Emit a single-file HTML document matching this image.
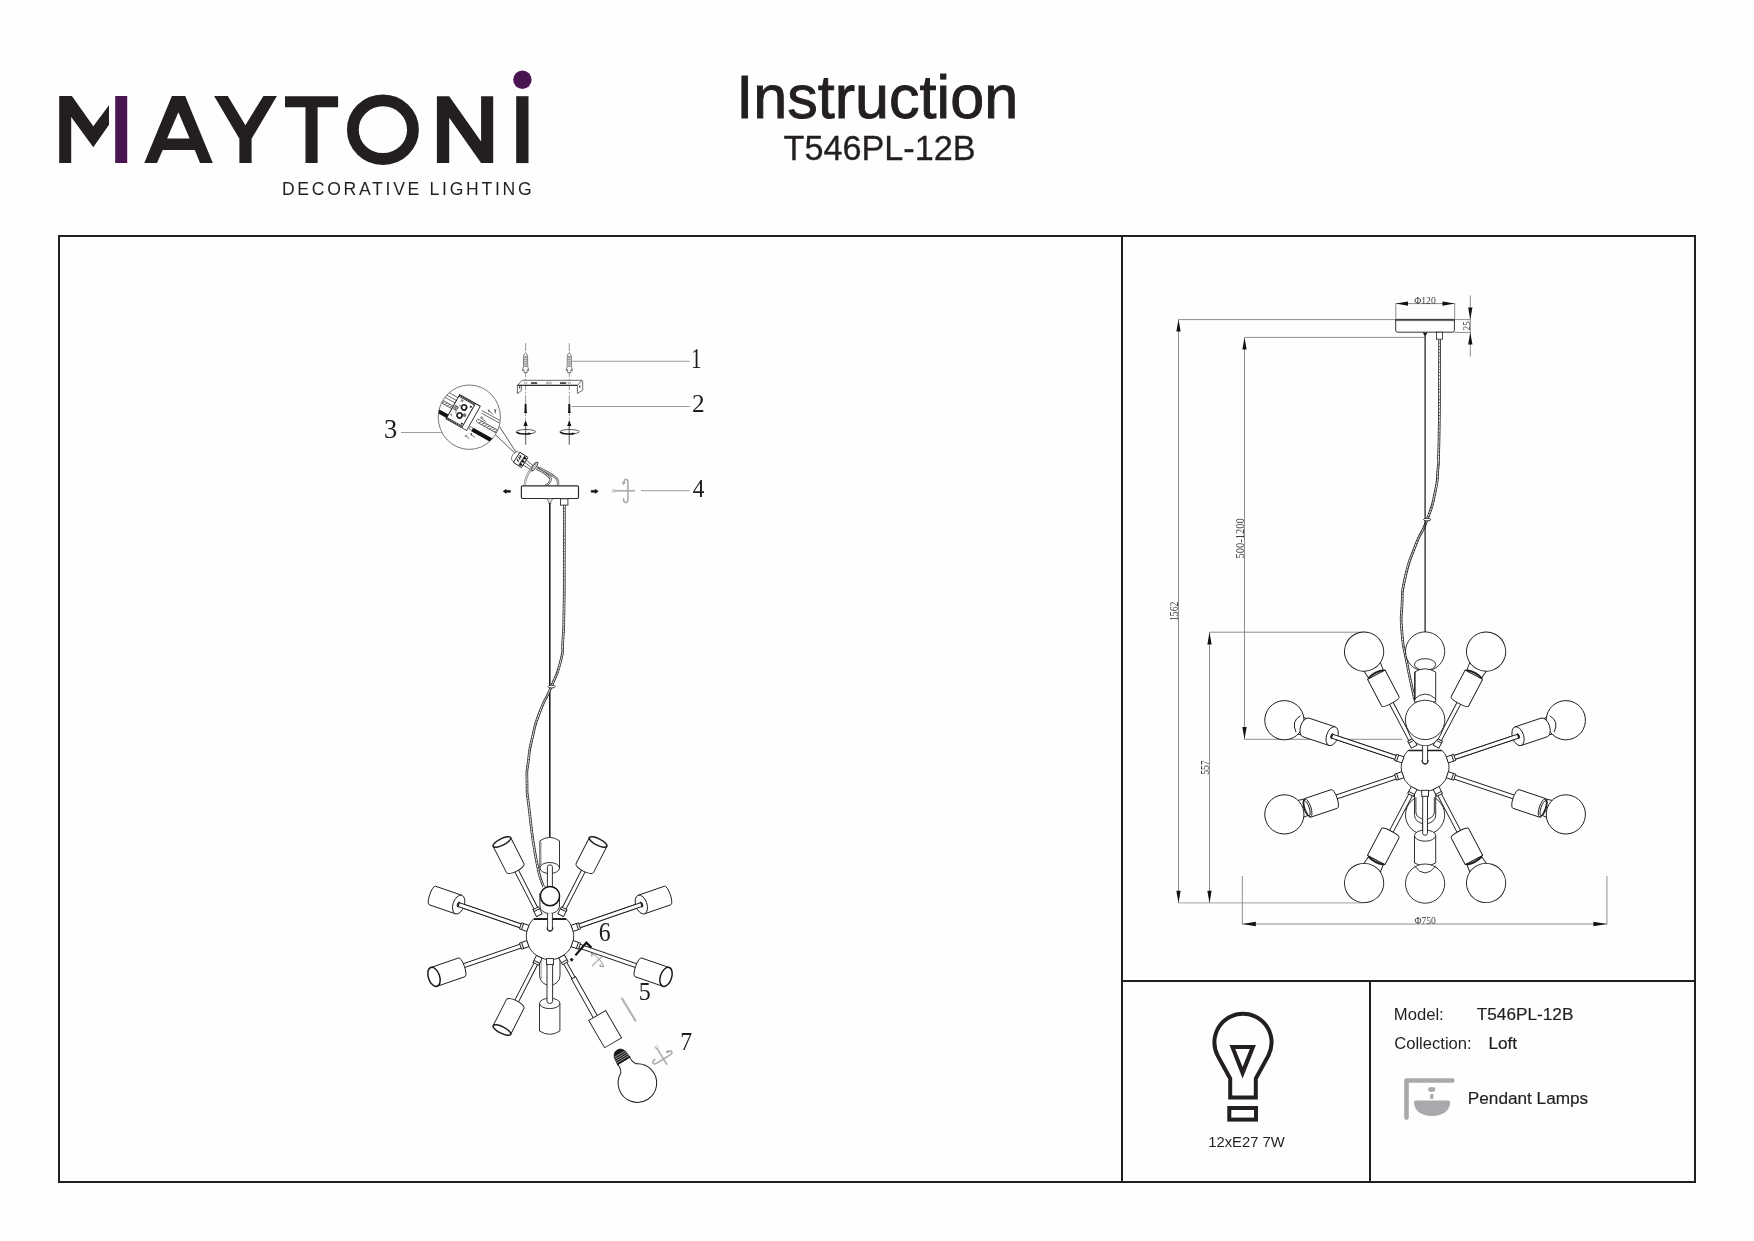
<!DOCTYPE html>
<html><head><meta charset="utf-8"><title>Instruction T546PL-12B</title>
<style>
html,body{margin:0;padding:0;background:#fefefe;}
body{width:1754px;height:1241px;overflow:hidden;font-family:"Liberation Sans",sans-serif;}
svg{position:absolute;left:0;top:0;display:block;will-change:transform;transform:translateZ(0)}
</style></head><body>
<svg width="1754" height="1241" viewBox="0 0 1754 1241">
<polygon fill="#231f20" points="59.2,96 71.9,96 93.3,126.3 109,105.2 109,124.8 93.3,147.2 71.2,117.1 71.2,163 59.2,163"/>
<rect fill="#4a1452" x="115.2" y="96" width="12" height="67"/>
<path fill="#231f20" fill-rule="evenodd" d="M171.9,96 L185.2,96 L212.8,163 L200,163 L194.8,150 L162.7,150 L157,163 L144.3,163 Z M178.4,112.2 L167.1,138.6 L189.6,138.6 Z"/>
<polygon fill="#231f20" points="214.1,96 227.8,96 245.4,125.2 263.4,96 276.9,96 251.6,138.7 251.6,163 239.4,163 239.4,138.7"/>
<polygon fill="#231f20" points="285,96.2 338.1,96.2 338.1,107.3 317.6,107.3 317.6,163.1 305.5,163.1 305.5,107.3 285,107.3"/>
<ellipse cx="382.9" cy="129.7" rx="30.05" ry="29.3" fill="none" stroke="#231f20" stroke-width="11.8"/>
<polygon fill="#231f20" points="436.9,96.2 449.2,96.2 481.1,141.6 481.1,96.2 493.2,96.2 493.2,163.1 481.1,163.1 449.2,117.7 449.2,163.1 436.9,163.1"/>
<rect fill="#231f20" x="516.2" y="96.2" width="12.3" height="66.9"/>
<circle fill="#4a1452" cx="522.4" cy="79.7" r="9.2"/>
<rect x="59" y="236" width="1636" height="946" fill="none" stroke="#231f20" stroke-width="2"/>
<line x1="1122" y1="236" x2="1122" y2="1182" stroke="#231f20" stroke-width="2"/>
<line x1="1122" y1="981" x2="1695" y2="981" stroke="#231f20" stroke-width="2"/>
<line x1="1370" y1="981" x2="1370" y2="1182" stroke="#231f20" stroke-width="2"/>
<text x="281.9" y="194.6" font-family="Liberation Sans, sans-serif" font-size="17.6" fill="#231f20" textLength="249.7" lengthAdjust="spacing">DECORATIVE LIGHTING</text>
<text x="736.2" y="117.5" font-family="Liberation Sans, sans-serif" font-size="60.4" fill="#231f20" stroke="#231f20" stroke-width="0.9" textLength="282" lengthAdjust="spacingAndGlyphs">Instruction</text>
<text x="783.6" y="160.3" font-family="Liberation Sans, sans-serif" font-size="34.3" fill="#231f20" stroke="#231f20" stroke-width="0.3" textLength="192" lengthAdjust="spacingAndGlyphs">T546PL-12B</text>
<text x="1393.8" y="1019.6" font-family="Liberation Sans, sans-serif" font-size="16.65" fill="#231f20">Model:</text>
<text x="1476.8" y="1019.6" font-family="Liberation Sans, sans-serif" font-size="17.1" fill="#231f20" stroke="#231f20" stroke-width="0.2" textLength="96.6" lengthAdjust="spacingAndGlyphs">T546PL-12B</text>
<text x="1394.2" y="1048.9" font-family="Liberation Sans, sans-serif" font-size="16.6" fill="#231f20">Collection:</text>
<text x="1488.4" y="1048.9" font-family="Liberation Sans, sans-serif" font-size="17.2" fill="#231f20" stroke="#231f20" stroke-width="0.2">Loft</text>
<text x="1467.8" y="1104" font-family="Liberation Sans, sans-serif" font-size="17.2" fill="#231f20" stroke="#231f20" stroke-width="0.2">Pendant Lamps</text>
<text x="1208.2" y="1146.5" font-family="Liberation Sans, sans-serif" font-size="14.8" fill="#231f20">12xE27 7W</text>
<path d="M1230.2,1097.4 L1230.2,1078.6 L1217.9,1056.1 A28.6,28.6 0 1 1 1268.1,1056.1 L1255.8,1078.6 L1255.8,1097.4 Z" fill="none" stroke="#231f20" stroke-width="4" stroke-linejoin="miter"/>
<path fill="#231f20" fill-rule="evenodd" d="M1229.5,1045.1 L1255.9,1045.1 L1242.6,1078.5 Z M1235.3,1049 L1249.8,1049 L1242.6,1066.9 Z"/>
<rect x="1229.3" y="1108" width="26.7" height="11.6" fill="none" stroke="#231f20" stroke-width="4"/>
<path d="M1406.5,1117.6 L1406.5,1080.5 L1452.4,1080.5" fill="none" stroke="#a7a9ac" stroke-width="4.6" stroke-linecap="round" stroke-linejoin="round"/>
<ellipse cx="1431.7" cy="1089.5" rx="3.6" ry="2.4" fill="#a7a9ac"/>
<rect x="1430.2" y="1094" width="3.2" height="4.9" fill="#a7a9ac"/>
<path d="M1414,1102.4 Q1414,1100.4 1416,1100.4 L1448.2,1100.4 Q1450.2,1100.4 1450.2,1102.4 C1450.2,1110 1443,1116 1432.1,1116 C1421,1116 1414,1110 1414,1102.4 Z" fill="#a7a9ac"/>
<g stroke="#808080" stroke-width="0.9" fill="none">
<line x1="1395.8" y1="303.2" x2="1395.8" y2="319.3"/>
<line x1="1454.7" y1="303.2" x2="1454.7" y2="319.3"/>
<line x1="1395.8" y1="303.6" x2="1454.7" y2="303.6"/>
<line x1="1470.3" y1="295.4" x2="1470.3" y2="356.6"/>
<line x1="1178.5" y1="319.6" x2="1470.6" y2="319.6"/>
<line x1="1454.4" y1="332.4" x2="1470.6" y2="332.4"/>
<line x1="1178.5" y1="319.4" x2="1178.5" y2="902.9"/>
<line x1="1178.5" y1="902.9" x2="1364.4" y2="902.9" stroke="#b4b4b4" stroke-width="1.1"/>
<line x1="1209.5" y1="632.2" x2="1209.5" y2="902.9"/>
<line x1="1209.5" y1="632.2" x2="1364.4" y2="632.2"/>
<line x1="1244.5" y1="337.4" x2="1244.5" y2="739.3"/>
<line x1="1244.5" y1="337.4" x2="1425.1" y2="337.4"/>
<line x1="1244.5" y1="739.3" x2="1402.3" y2="739.3"/>
<line x1="1242.3" y1="876" x2="1242.3" y2="924.4"/>
<line x1="1606.9" y1="876" x2="1606.9" y2="924.4"/>
<line x1="1242.3" y1="924" x2="1606.9" y2="924"/>
</g>
<polygon fill="#111111" points="1395.8,303.6 1408,301.45 1408,305.75"/>
<polygon fill="#111111" points="1454.7,303.6 1442.5,305.75 1442.5,301.45"/>
<polygon fill="#111111" points="1470.3,319.6 1468.15,307.4 1472.45,307.4"/>
<polygon fill="#111111" points="1470.3,332.4 1472.45,344.6 1468.15,344.6"/>
<polygon fill="#111111" points="1178.5,319.4 1180.65,331.6 1176.35,331.6"/>
<polygon fill="#111111" points="1178.5,902.9 1176.35,890.7 1180.65,890.7"/>
<polygon fill="#111111" points="1209.5,632.2 1211.65,644.4 1207.35,644.4"/>
<polygon fill="#111111" points="1209.5,902.9 1207.35,890.7 1211.65,890.7"/>
<polygon fill="#111111" points="1244.5,337.4 1246.65,349.6 1242.35,349.6"/>
<polygon fill="#111111" points="1244.5,739.3 1242.35,727.1 1246.65,727.1"/>
<polygon fill="#111111" points="1242.3,924 1255.8,921.85 1255.8,926.15"/>
<polygon fill="#111111" points="1606.9,924 1593.4,926.15 1593.4,921.85"/>
<text x="1425" y="303.5" font-family="Liberation Serif, serif" font-size="11" fill="#3c3c3c" text-anchor="middle" textLength="21.6" lengthAdjust="spacingAndGlyphs">&#934;120</text>
<text x="1425.2" y="923.7" font-family="Liberation Serif, serif" font-size="11" fill="#3c3c3c" text-anchor="middle" textLength="21.4" lengthAdjust="spacingAndGlyphs">&#934;750</text>
<text x="1469.7" y="325.8" font-family="Liberation Serif, serif" font-size="10.6" fill="#3c3c3c" text-anchor="middle" textLength="9.4" lengthAdjust="spacingAndGlyphs" transform="rotate(-90 1469.7 325.8)">25</text>
<text x="1178.3" y="611.3" font-family="Liberation Serif, serif" font-size="11.6" fill="#3c3c3c" text-anchor="middle" textLength="19.4" lengthAdjust="spacingAndGlyphs" transform="rotate(-90 1178.3 611.3)">1562</text>
<text x="1209.4" y="767.6" font-family="Liberation Serif, serif" font-size="11.6" fill="#3c3c3c" text-anchor="middle" textLength="14.5" lengthAdjust="spacingAndGlyphs" transform="rotate(-90 1209.4 767.6)">557</text>
<text x="1244.3" y="538.3" font-family="Liberation Serif, serif" font-size="11.6" fill="#3c3c3c" text-anchor="middle" textLength="40.4" lengthAdjust="spacingAndGlyphs" transform="rotate(-90 1244.3 538.3)">500-1200</text>
<path d="M1395.7,319.4 L1454.4,319.4 L1454.4,330.2 Q1454.4,332.2 1452.4,332.2 L1397.7,332.2 Q1395.7,332.2 1395.7,330.2 Z" fill="#fff" stroke="#1c1c1c" stroke-width="0.9"/>
<line x1="1395.7" y1="320.6" x2="1454.4" y2="320.6" stroke="#1c1c1c" stroke-width="0.7"/>
<rect x="1436.6" y="332.2" width="6" height="7" fill="#fff" stroke="#1c1c1c" stroke-width="0.8"/>
<path d="M1422.6,332.4 L1427.6,332.4 L1425.8,335.6 L1424.4,335.6 Z" fill="#1c1c1c" stroke="none"/>
<path d="M1439.6,339.4 C1439.57,352.93 1439.6,353.13 1439.5,380 C1439.4,406.87 1439.6,395 1439.3,420 C1439,445 1439.07,438.5 1438.6,455 C1438.13,471.5 1439.07,457.07 1437.9,469.5 C1436.73,481.93 1438.7,475.57 1435.1,492.3 C1431.5,509.03 1433.77,501.63 1427.1,519.7 C1420.43,537.77 1422.43,527.1 1415.1,546.5 C1407.77,565.9 1409.47,558.4 1405.1,577.9 C1400.73,597.4 1403.03,586.7 1402,605 C1400.97,623.3 1400.47,614.03 1402,632.8 C1403.53,651.57 1402.4,639.07 1406.6,661.3 C1410.8,683.53 1411.93,686.77 1414.6,699.5 " fill="none" stroke="#222" stroke-width="2.6"/>
<path d="M1439.6,339.4 C1439.57,352.93 1439.6,353.13 1439.5,380 C1439.4,406.87 1439.6,395 1439.3,420 C1439,445 1439.07,438.5 1438.6,455 C1438.13,471.5 1439.07,457.07 1437.9,469.5 C1436.73,481.93 1438.7,475.57 1435.1,492.3 C1431.5,509.03 1433.77,501.63 1427.1,519.7 C1420.43,537.77 1422.43,527.1 1415.1,546.5 C1407.77,565.9 1409.47,558.4 1405.1,577.9 C1400.73,597.4 1403.03,586.7 1402,605 C1400.97,623.3 1400.47,614.03 1402,632.8 C1403.53,651.57 1402.4,639.07 1406.6,661.3 C1410.8,683.53 1411.93,686.77 1414.6,699.5 " fill="none" stroke="#fff" stroke-width="1.0"/>
<path d="M1439.6,339.4 C1439.57,352.93 1439.6,353.13 1439.5,380 C1439.4,406.87 1439.6,395 1439.3,420 C1439,445 1439.07,438.5 1438.6,455 C1438.13,471.5 1439.07,457.07 1437.9,469.5 C1436.73,481.93 1438.7,475.57 1435.1,492.3 C1431.5,509.03 1433.77,501.63 1427.1,519.7 C1420.43,537.77 1422.43,527.1 1415.1,546.5 C1407.77,565.9 1409.47,558.4 1405.1,577.9 C1400.73,597.4 1403.03,586.7 1402,605 C1400.97,623.3 1400.47,614.03 1402,632.8 C1403.53,651.57 1402.4,639.07 1406.6,661.3 C1410.8,683.53 1411.93,686.77 1414.6,699.5 " fill="none" stroke="#1c1c1c" stroke-width="1.4" stroke-dasharray="0.7 2.6" opacity="0.75"/>
<line x1="1425.1" y1="334" x2="1425.1" y2="632" stroke="#1c1c1c" stroke-width="1.25"/>
<ellipse cx="1427.2" cy="519.6" rx="3.6" ry="1.3" fill="#fff" stroke="#1c1c1c" stroke-width="0.9"/>
<circle cx="1425.1" cy="814.9" r="19.6" fill="#fff" stroke="#1c1c1c" stroke-width="0.9"/>
<path d="M1414.5,791.3 L1414.5,815.3 A10.6,8.5 0 0 0 1435.7,815.3 L1435.7,791.3" fill="#fff" stroke="#1c1c1c" stroke-width="0.9"/>
<path d="M1415.9,797.3 L1415.9,812.3 A9.2,7 0 0 0 1434.3,812.3 L1434.3,797.3" fill="none" stroke="#1c1c1c" stroke-width="0.9"/>
<circle cx="1425.1" cy="651.5" r="19.6" fill="#fff" stroke="#1c1c1c" stroke-width="0.9"/>
<ellipse cx="1425.1" cy="664.5" rx="10.6" ry="5.8" fill="#fff" stroke="#1c1c1c" stroke-width="0.9"/>
<path d="M1414.5,672 Q1425.1,665.6 1435.7,672 L1435.7,702 L1414.5,702 Z" fill="#fff" stroke="#1c1c1c" stroke-width="0.9"/>
<path d="M1414.5,699 Q1425.1,689 1435.7,699" fill="none" stroke="#1c1c1c" stroke-width="0.9"/>
<line x1="1415.5" y1="672" x2="1415.5" y2="700" stroke="#1c1c1c" stroke-width="0.6"/>
<g transform="translate(1425.1,767.3) rotate(242.2)" fill="#fff" stroke="#1c1c1c" stroke-width="0.9" stroke-linejoin="round">
<rect x="29.5" y="-2" width="46" height="4"/>
<path d="M104.7,-8.3 L113.7,-9.3 L113.7,9.3 L104.7,8.3 Z"/>
<circle cx="130.8" cy="0" r="19.6"/>
<path d="M74.5,-9.9 L104.7,-9.9 L104.7,9.9 L74.5,9.9 A2.2,9.9 0 0 1 74.5,-9.9 Z"/>
<path d="M104.7,-9.9 Q107.9,0 104.7,9.9" fill="none"/>
<path d="M105.5,-8.5 Q108.5,0 105.5,8.5" fill="none" stroke-width="1.6"/>

</g>
<g transform="translate(1425.1,767.3) rotate(-62.2)" fill="#fff" stroke="#1c1c1c" stroke-width="0.9" stroke-linejoin="round">
<rect x="29.5" y="-2" width="46" height="4"/>
<path d="M104.7,-8.3 L113.7,-9.3 L113.7,9.3 L104.7,8.3 Z"/>
<circle cx="130.8" cy="0" r="19.6"/>
<path d="M74.5,-9.9 L104.7,-9.9 L104.7,9.9 L74.5,9.9 A2.2,9.9 0 0 1 74.5,-9.9 Z"/>
<path d="M104.7,-9.9 Q107.9,0 104.7,9.9" fill="none"/>
<path d="M105.5,-8.5 Q108.5,0 105.5,8.5" fill="none" stroke-width="1.6"/>

</g>
<g transform="translate(1425.1,767.3) rotate(117.8)" fill="#fff" stroke="#1c1c1c" stroke-width="0.9" stroke-linejoin="round">
<rect x="29.5" y="-2" width="46" height="4"/>
<path d="M104.7,-8.3 L113.7,-9.3 L113.7,9.3 L104.7,8.3 Z"/>
<circle cx="130.8" cy="0" r="19.6"/>
<path d="M74.5,-9.9 L104.7,-9.9 L104.7,9.9 L74.5,9.9 A2.2,9.9 0 0 1 74.5,-9.9 Z"/>
<path d="M104.7,-9.9 Q107.9,0 104.7,9.9" fill="none"/>
<path d="M105.5,-8.5 Q108.5,0 105.5,8.5" fill="none" stroke-width="1.6"/>

</g>
<g transform="translate(1425.1,767.3) rotate(62.2)" fill="#fff" stroke="#1c1c1c" stroke-width="0.9" stroke-linejoin="round">
<rect x="29.5" y="-2" width="46" height="4"/>
<path d="M104.7,-8.3 L113.7,-9.3 L113.7,9.3 L104.7,8.3 Z"/>
<circle cx="130.8" cy="0" r="19.6"/>
<path d="M74.5,-9.9 L104.7,-9.9 L104.7,9.9 L74.5,9.9 A2.2,9.9 0 0 1 74.5,-9.9 Z"/>
<path d="M104.7,-9.9 Q107.9,0 104.7,9.9" fill="none"/>
<path d="M105.5,-8.5 Q108.5,0 105.5,8.5" fill="none" stroke-width="1.6"/>

</g>
<g transform="translate(1425.1,767.3) rotate(198.5)" fill="#fff" stroke="#1c1c1c" stroke-width="0.9" stroke-linejoin="round">
<rect x="29.5" y="-2" width="69.5" height="4"/>
<path d="M125.5,-8.2 L134.5,-9.2 L134.5,9.2 L125.5,8.2 Z"/>
<circle cx="148.4" cy="0" r="19.6"/>
<path d="M98,-9.8 L125.5,-9.8 A5.6,9.8 0 0 1 125.5,9.8 L98,9.8 Z"/>
<ellipse cx="98" cy="0" rx="5.6" ry="9.8"/>
<ellipse cx="98" cy="0" rx="1.3" ry="2.6" fill="#1c1c1c"/>
<rect x="29.5" y="-2" width="68.5" height="4"/>
<path d="M133.5,-7.6 Q142,1 134.5,9.4" fill="none"/>
</g>
<g transform="translate(1425.1,767.3) rotate(-18.5)" fill="#fff" stroke="#1c1c1c" stroke-width="0.9" stroke-linejoin="round">
<rect x="29.5" y="-2" width="69.5" height="4"/>
<path d="M125.5,-8.2 L134.5,-9.2 L134.5,9.2 L125.5,8.2 Z"/>
<circle cx="148.4" cy="0" r="19.6"/>
<path d="M98,-9.8 L125.5,-9.8 A5.6,9.8 0 0 1 125.5,9.8 L98,9.8 Z"/>
<ellipse cx="98" cy="0" rx="5.6" ry="9.8"/>
<ellipse cx="98" cy="0" rx="1.3" ry="2.6" fill="#1c1c1c"/>
<rect x="29.5" y="-2" width="68.5" height="4"/>
<path d="M133.5,7.6 Q142,-1 134.5,-9.4" fill="none"/>
</g>
<g transform="translate(1425.1,767.3) rotate(161.5)" fill="#fff" stroke="#1c1c1c" stroke-width="0.9" stroke-linejoin="round">
<rect x="29.5" y="-2" width="67.7" height="4"/>
<path d="M124.5,-8.2 L133.5,-9.2 L133.5,9.2 L124.5,8.2 Z"/>
<circle cx="148.4" cy="0" r="19.6"/>
<g transform="translate(0,-1.2)">
<path d="M96.2,-9.8 L124.5,-9.8 A3,9.8 0 0 1 124.5,9.8 L96.2,9.8 A3,9.8 0 0 1 96.2,-9.8 Z"/>
<ellipse cx="124" cy="0" rx="3" ry="9.2" fill="none"/>
<ellipse cx="125.3" cy="0" rx="2.6" ry="8" fill="none"/>
</g>

</g>
<g transform="translate(1425.1,767.3) rotate(18.5)" fill="#fff" stroke="#1c1c1c" stroke-width="0.9" stroke-linejoin="round">
<rect x="29.5" y="-2" width="67.7" height="4"/>
<path d="M124.5,-8.2 L133.5,-9.2 L133.5,9.2 L124.5,8.2 Z"/>
<circle cx="148.4" cy="0" r="19.6"/>
<g transform="translate(0,1.2)">
<path d="M96.2,-9.8 L124.5,-9.8 A3,9.8 0 0 1 124.5,9.8 L96.2,9.8 A3,9.8 0 0 1 96.2,-9.8 Z"/>
<ellipse cx="124" cy="0" rx="3" ry="9.2" fill="none"/>
<ellipse cx="125.3" cy="0" rx="2.6" ry="8" fill="none"/>
</g>

</g>
<rect x="1422.7" y="789.3" width="4.8" height="53" fill="#fff" stroke="#1c1c1c" stroke-width="0.9"/>
<path d="M1414.5,835.6 L1414.5,863 Q1425.1,869 1435.7,863 L1435.7,835.6 Z" fill="#fff" stroke="#1c1c1c" stroke-width="0.9"/>
<ellipse cx="1425.1" cy="835.6" rx="10.6" ry="5.6" fill="#fff" stroke="#1c1c1c" stroke-width="0.9"/>
<path d="M1422.7,820 L1422.7,833.6 A2.4,1.6 0 0 0 1427.5,833.6 L1427.5,820" fill="#fff" stroke="#1c1c1c" stroke-width="0.9"/>
<circle cx="1425.1" cy="883.6" r="19.6" fill="#fff" stroke="#1c1c1c" stroke-width="0.9"/>
<path d="M1414.5,866 Q1425.1,880 1435.7,866" fill="none" stroke="#1c1c1c" stroke-width="0.9"/>
<path d="M1408.4,750.2 A23.9,23.9 0 1 0 1441.8,750.2 Z" fill="#fff" stroke="#1c1c1c" stroke-width="0.9"/>
<line x1="1408.4" y1="750.6" x2="1441.8" y2="750.6" stroke="#1c1c1c" stroke-width="1.2"/>
<g transform="translate(1425.1,767.3) rotate(242.2)" fill="#fff" stroke="#1c1c1c" stroke-width="0.9"><rect x="23.4" y="-3.2" width="7.8" height="6.4"/><line x1="29" y1="-3.2" x2="29" y2="3.2"/></g>
<g transform="translate(1425.1,767.3) rotate(-62.2)" fill="#fff" stroke="#1c1c1c" stroke-width="0.9"><rect x="23.4" y="-3.2" width="7.8" height="6.4"/><line x1="29" y1="-3.2" x2="29" y2="3.2"/></g>
<g transform="translate(1425.1,767.3) rotate(117.8)" fill="#fff" stroke="#1c1c1c" stroke-width="0.9"><rect x="23.4" y="-3.2" width="7.8" height="6.4"/><line x1="29" y1="-3.2" x2="29" y2="3.2"/></g>
<g transform="translate(1425.1,767.3) rotate(62.2)" fill="#fff" stroke="#1c1c1c" stroke-width="0.9"><rect x="23.4" y="-3.2" width="7.8" height="6.4"/><line x1="29" y1="-3.2" x2="29" y2="3.2"/></g>
<g transform="translate(1425.1,767.3) rotate(198.5)" fill="#fff" stroke="#1c1c1c" stroke-width="0.9"><rect x="23.4" y="-3.2" width="7.8" height="6.4"/><line x1="29" y1="-3.2" x2="29" y2="3.2"/></g>
<g transform="translate(1425.1,767.3) rotate(-18.5)" fill="#fff" stroke="#1c1c1c" stroke-width="0.9"><rect x="23.4" y="-3.2" width="7.8" height="6.4"/><line x1="29" y1="-3.2" x2="29" y2="3.2"/></g>
<g transform="translate(1425.1,767.3) rotate(161.5)" fill="#fff" stroke="#1c1c1c" stroke-width="0.9"><rect x="23.4" y="-3.2" width="7.8" height="6.4"/><line x1="29" y1="-3.2" x2="29" y2="3.2"/></g>
<g transform="translate(1425.1,767.3) rotate(18.5)" fill="#fff" stroke="#1c1c1c" stroke-width="0.9"><rect x="23.4" y="-3.2" width="7.8" height="6.4"/><line x1="29" y1="-3.2" x2="29" y2="3.2"/></g>
<rect x="1421.7" y="790.3" width="6.8" height="6" fill="#fff" stroke="#1c1c1c" stroke-width="0.9"/>
<path d="M1406.1,724.3 C1409.1,739.3 1417.1,745.9 1425.1,745.9 C1433.1,745.9 1441.1,739.3 1444.1,724.3 Z" fill="#fff" stroke="#1c1c1c" stroke-width="0.9"/>
<circle cx="1425.1" cy="719.9" r="19.700000000000003" fill="#fff" stroke="#1c1c1c" stroke-width="0.9"/>
<path d="M1422.6,746.1 L1422.6,761.8 A2.5,2.5 0 0 0 1427.6,761.8 L1427.6,746.1" fill="#fff" stroke="#1c1c1c" stroke-width="0.9"/>
<path d="M1421.7,760.3 A3.4,3.4 0 0 0 1428.5,760.3" fill="none" stroke="#1c1c1c" stroke-width="0.9"/>
<g stroke="#9c9c9c" stroke-width="1.05" fill="none">
<line x1="571.2" y1="361.3" x2="689.8" y2="361.3"/>
<line x1="571.6" y1="406.4" x2="689.8" y2="406.4"/>
<line x1="401" y1="432.4" x2="441.6" y2="432.4"/>
<line x1="641" y1="490.6" x2="689.8" y2="490.6" stroke="#b0b0b0"/>
</g>
<text transform="translate(691.04,368.1) scale(0.729,1)" x="0" y="0" font-family="Liberation Serif, serif" font-size="28.94" fill="#1e1e1e">1</text>
<text transform="translate(691.99,411.9) scale(0.978,1)" x="0" y="0" font-family="Liberation Serif, serif" font-size="25.83" fill="#1e1e1e">2</text>
<text transform="translate(383.93,438.25) scale(0.960,1)" x="0" y="0" font-family="Liberation Serif, serif" font-size="27.57" fill="#1e1e1e">3</text>
<text transform="translate(692.73,496.9) scale(0.892,1)" x="0" y="0" font-family="Liberation Serif, serif" font-size="26.14" fill="#1e1e1e">4</text>
<text transform="translate(638.7,1000.37) scale(0.959,1)" x="0" y="0" font-family="Liberation Serif, serif" font-size="25.15" fill="#1e1e1e">5</text>
<text transform="translate(598.78,940.86) scale(0.879,1)" x="0" y="0" font-family="Liberation Serif, serif" font-size="26.97" fill="#1e1e1e">6</text>
<text transform="translate(680.23,1049.8) scale(0.910,1)" x="0" y="0" font-family="Liberation Serif, serif" font-size="26.11" fill="#1e1e1e">7</text>
<line x1="525.6" y1="343.2" x2="525.6" y2="427" stroke="#8a8a8a" stroke-width="0.9" stroke-dasharray="8 1.6 1.8 1.6"/>
<line x1="525.6" y1="426" x2="525.6" y2="444.8" stroke="#7a7a7a" stroke-width="1.3"/>
<path d="M525.6,352.8 C523.8,354 523.6,356 523.6,358 L523.5,366.5 L522.4,370.6 L524,369.6 L524,372.6 L527.2,372.6 L527.2,369.6 L528.8,370.6 L527.7,366.5 L527.6,358 C527.6,356 527.4,354 525.6,352.8 Z" fill="#fff" stroke="#555" stroke-width="0.8"/>
<rect x="524.1" y="356" width="3" height="11" fill="#9a9a9a"/>
<path d="M524.1,358.4 h3 M524.1,360.6 h3 M524.1,362.8 h3 M524.1,365 h3" stroke="#fff" stroke-width="0.6"/>
<path d="M524.7,403.8 L526.5,403.8 L526.7,411.6 L527.2,412.9 L524,412.9 L524.5,411.6 Z" fill="#111111"/>
<polygon points="525.6,420 527.7,426 523.5,426" fill="#111111"/>
<ellipse cx="526" cy="431.7" rx="9.6" ry="2.2" fill="none" stroke="#333" stroke-width="0.8"/>
<path d="M516.4,431.9 C517.6,434.4 523.6,434.2 528.6,434" fill="none" stroke="#111111" stroke-width="1.3"/>
<polygon points="528.2,432.6 532,433.4 528.6,435" fill="#111111"/>
<line x1="569.3" y1="343.2" x2="569.3" y2="427" stroke="#8a8a8a" stroke-width="0.9" stroke-dasharray="8 1.6 1.8 1.6"/>
<line x1="569.3" y1="426" x2="569.3" y2="444.8" stroke="#7a7a7a" stroke-width="1.3"/>
<path d="M569.3,352.8 C567.5,354 567.3,356 567.3,358 L567.2,366.5 L566.1,370.6 L567.7,369.6 L567.7,372.6 L570.9,372.6 L570.9,369.6 L572.5,370.6 L571.4,366.5 L571.3,358 C571.3,356 571.1,354 569.3,352.8 Z" fill="#fff" stroke="#555" stroke-width="0.8"/>
<rect x="567.8" y="356" width="3" height="11" fill="#9a9a9a"/>
<path d="M567.8,358.4 h3 M567.8,360.6 h3 M567.8,362.8 h3 M567.8,365 h3" stroke="#fff" stroke-width="0.6"/>
<path d="M568.4,403.8 L570.2,403.8 L570.4,411.6 L570.9,412.9 L567.7,412.9 L568.2,411.6 Z" fill="#111111"/>
<polygon points="569.3,420 571.4,426 567.2,426" fill="#111111"/>
<ellipse cx="569.7" cy="431.7" rx="9.6" ry="2.2" fill="none" stroke="#333" stroke-width="0.8"/>
<path d="M560.1,431.9 C561.3,434.4 567.3,434.2 572.3,434" fill="none" stroke="#111111" stroke-width="1.3"/>
<polygon points="571.9,432.6 575.7,433.4 572.3,435" fill="#111111"/>
<path d="M522.2,380.3 L582,380.3 L582.7,381.5 L582.7,390.2 L577.4,393.5 L577.4,385.4 L521.4,385.4 L521.4,390.5 L517.4,393.5 L517.4,385.3 Z" fill="#fff" stroke="#444" stroke-width="0.8" stroke-linejoin="round"/>
<path d="M577.4,385.4 L582,380.3 M517.4,385.3 L521.4,385.4" fill="none" stroke="#444" stroke-width="0.8"/>
<line x1="517.4" y1="385.4" x2="577.4" y2="385.4" stroke="#333" stroke-width="1.1"/>
<rect x="531" y="382.3" width="6.2" height="1.5" fill="#222"/><rect x="560" y="382.3" width="6.2" height="1.5" fill="#222"/>
<ellipse cx="525.6" cy="382.9" rx="1.6" ry="0.8" fill="none" stroke="#777" stroke-width="0.5"/><ellipse cx="548.8" cy="382.9" rx="2.8" ry="0.9" fill="none" stroke="#666" stroke-width="0.6"/><ellipse cx="569.3" cy="382.9" rx="1.6" ry="0.8" fill="none" stroke="#777" stroke-width="0.5"/>
<rect x="519" y="386.2" width="1.2" height="2.2" fill="#444"/><rect x="579.2" y="385.2" width="1.2" height="2.6" fill="#444"/>
<clipPath id="mag"><ellipse cx="0" cy="0" rx="31.1" ry="32.2" transform="rotate(-29.4)"/></clipPath>
<line x1="499.6" y1="426.7" x2="517.2" y2="454" stroke="#333" stroke-width="0.8"/><line x1="495.5" y1="434.8" x2="515.4" y2="453.6" stroke="#333" stroke-width="0.8"/>
<g transform="translate(469.3,417.2) rotate(29.4)">
<g clip-path="url(#mag)">
<g stroke="#444" stroke-width="0.7" fill="none">
<line x1="-40" y1="-11.5" x2="-19.4" y2="-11.5"/>
<line x1="-40" y1="-8.2" x2="-19.4" y2="-8.2"/>
<line x1="-40" y1="-5.4" x2="-19.4" y2="-5.4"/>
<line x1="-40" y1="-1.7" x2="-19.4" y2="-1.7"/>
<line x1="-40" y1="1.2" x2="-19.4" y2="1.2"/>
<line x1="-34" y1="1.2" x2="-31.8" y2="-1.7"/>
<line x1="-31" y1="1.2" x2="-28.8" y2="-1.7"/>
<line x1="-28" y1="1.2" x2="-25.8" y2="-1.7"/>
<line x1="-25" y1="1.2" x2="-22.8" y2="-1.7"/>
<line x1="-22" y1="1.2" x2="-19.8" y2="-1.7"/>
</g>
<rect x="-40" y="7.9" width="21" height="4" fill="#111111"/>
<g stroke="#444" stroke-width="0.7" fill="none">
<path d="M40,-12.4 L7.5,-11.9 M40,-9.9 L8.8,-9.5"/>
<path d="M40,-2.7 L9.5,-2.7 A1.65,1.65 0 0 0 9.5,0.6 L40,0.6"/>
<line x1="11" y1="0.6" x2="13.4" y2="-2.7"/>
<line x1="14" y1="0.6" x2="16.4" y2="-2.7"/>
<line x1="17" y1="0.6" x2="19.4" y2="-2.7"/>
<line x1="20" y1="0.6" x2="22.4" y2="-2.7"/>
<line x1="23" y1="0.6" x2="25.4" y2="-2.7"/>
<line x1="26" y1="0.6" x2="28.4" y2="-2.7"/>
<line x1="29" y1="0.6" x2="31.4" y2="-2.7"/>
<line x1="32" y1="0.6" x2="34.4" y2="-2.7"/>
<circle cx="10.8" cy="-5.6" r="0.9"/><path d="M11.6,-5.2 L16.8,-3.9"/>
<path d="M12.5,-15.5 L19.5,-14.2 M13.4,-16.4 L14.6,-13.8 M18,-19.5 L21,-16.2 M19.4,-20.2 L19.8,-17.2"/>
<path d="M8.5,13.6 L15,15 M9.8,12.6 L10.8,15.2 M5.6,17.6 L10.4,18.8 M6.4,16.8 L5.8,19.4"/>
</g>
<rect x="5.6" y="7.6" width="3.4" height="2.7" fill="#fff" stroke="#444" stroke-width="0.6"/>
<rect x="8.6" y="7.2" width="32" height="4" fill="#111111"/>
</g>
<rect x="-19.4" y="-14.9" width="23.6" height="27.8" fill="#fff" stroke="#222" stroke-width="0.9"/>
<line x1="-1.4" y1="-14.9" x2="-1.4" y2="12.9" stroke="#222" stroke-width="0.9"/>
<line x1="-19.4" y1="-13.2" x2="-1.4" y2="-13.2" stroke="#222" stroke-width="0.8"/><line x1="-19.4" y1="11.3" x2="-1.4" y2="11.3" stroke="#222" stroke-width="0.8"/>
<line x1="-19.4" y1="-14.05" x2="-1.4" y2="-14.05" stroke="#222" stroke-width="1.7" stroke-dasharray="1 1"/><line x1="-19.4" y1="12.1" x2="-1.4" y2="12.1" stroke="#222" stroke-width="1.6" stroke-dasharray="1 1"/>
<circle cx="-9.4" cy="-6" r="2.5" fill="#fff" stroke="#111" stroke-width="1.5"/><circle cx="-9.4" cy="3.2" r="2.5" fill="#fff" stroke="#111" stroke-width="1.5"/>
<path d="M-9.4,-9.4 L-6.4,-7 L-6.6,-3.8 L-9.6,-2.6" fill="none" stroke="#222" stroke-width="0.6"/><path d="M-9.4,-0.2 L-6.4,2 L-6.6,5.4 L-9.6,6.6" fill="none" stroke="#222" stroke-width="0.6"/>
<circle cx="-16.2" cy="-1.4" r="1.9" fill="#fff" stroke="#222" stroke-width="0.7"/><circle cx="-16.2" cy="-1.4" r="0.9" fill="#555"/>
<circle cx="-5.2" cy="0.6" r="1.5" fill="#777" stroke="#444" stroke-width="0.5"/>
<path d="M-4.6,-10.6 l1.6,1.6 m0,-1.6 l-1.6,1.6 M-4.2,8.6 l1.6,1.6 m0,-1.6 l-1.6,1.6" stroke="#111" stroke-width="0.8" fill="none"/>
<path d="M-15.6,-9.8 l0.6,-2 l1.2,2 l0.6,-2" stroke="#222" stroke-width="0.6" fill="none"/><path d="M-17.2,5.4 l0,1.8 l1.6,0.4" stroke="#222" stroke-width="0.6" fill="none"/>
<path d="M-18.6,-3.4 L-14,-3.4 M-18.6,0.6 L-14,0.6 M-14.8,-5.6 L-12.2,-5.6 M-14.8,2.6 L-12.2,2.6" stroke="#333" stroke-width="0.6"/>
</g>
<ellipse cx="469.3" cy="417.2" rx="31.1" ry="32.2" fill="none" stroke="#555" stroke-width="0.8"/>
<path d="M524.6,485.4 C525.4,479 527.6,473.6 531,469" fill="none" stroke="#8a8a8a" stroke-width="2.2"/><path d="M524.6,485.4 C525.4,479 527.6,473.6 531,469" fill="none" stroke="#fff" stroke-width="0.8"/>
<path d="M558,485.8 L558,481.4 C557.6,478.4 551,473.6 537.2,467.2" fill="none" stroke="#555" stroke-width="2.4"/><path d="M558,485.8 L558,481.4 C557.6,478.4 551,473.6 537.2,467.2" fill="none" stroke="#fff" stroke-width="0.9"/>
<path d="M545.4,485.8 C549,483.6 550.6,481.6 550.8,479 C548,474.6 543,471.4 536.4,468.6" fill="none" stroke="#555" stroke-width="2.4"/><path d="M545.4,485.8 C549,483.6 550.6,481.6 550.8,479 C548,474.6 543,471.4 536.4,468.6" fill="none" stroke="#fff" stroke-width="0.9"/>
<path d="M537.6,467.6 L552,476.4" fill="none" stroke="#555" stroke-width="1.6" stroke-dasharray="0.8 1"/>
<g transform="translate(534.6,466.6) rotate(33)"><ellipse cx="0" cy="0" rx="1.5" ry="5.4" fill="#fff" stroke="#333" stroke-width="0.9"/><ellipse cx="-1.2" cy="0" rx="1.3" ry="4.2" fill="none" stroke="#666" stroke-width="0.6"/></g>
<g transform="translate(520.2,459.6) rotate(33)"><path d="M-1,-5.6 L-6.5,-5.2 C-9.6,-3.6 -9.6,3.6 -6.5,5.2 L-1,5.6" fill="#fff" stroke="#555" stroke-width="0.7"/><line x1="5" y1="-3" x2="14" y2="-2" stroke="#444" stroke-width="0.7"/><line x1="5" y1="0" x2="14" y2="0.4" stroke="#444" stroke-width="0.7"/><line x1="5" y1="3" x2="14" y2="2.6" stroke="#444" stroke-width="0.7"/><rect x="-4.2" y="-6" width="9.6" height="12" fill="#fff" stroke="#222" stroke-width="0.9"/><line x1="1.8" y1="-6" x2="1.8" y2="6" stroke="#222" stroke-width="0.7"/><path d="M2.2,-5.2 L5,-3.7 L2.2,-2.2 Z M2.2,-1.5 L5,0 L2.2,1.5 Z M2.2,2.2 L5,3.7 L2.2,5.2 Z" fill="#0a0a0a" stroke="#0a0a0a" stroke-width="0.5"/><path d="M-2.8,-3.6 l2.6,1.6 m-2.6,0.4 l2.6,1.6 M-2.8,1.2 l2.6,1.6" stroke="#111" stroke-width="1.1"/></g>
<rect x="521.4" y="485.8" width="57.1" height="12.7" rx="1.2" ry="1.2" fill="#fff" stroke="#2a2a2a" stroke-width="1.2"/>
<path d="M546.4,498.8 L553,498.8 L550.8,501 L550.8,503.4 L548.8,503.4 L548.8,501 Z" fill="#fff" stroke="#333" stroke-width="0.7"/>
<rect x="560.5" y="498.8" width="7.4" height="6.3" fill="#fff" stroke="#333" stroke-width="0.9"/>
<path d="M503.2,491.3 L506.2,489.3 L506.2,490.4 L510.4,490.4 L510.4,492.3 L506.2,492.3 L506.2,493.4 Z" fill="#111111" stroke="#111111" stroke-width="0.6" stroke-linejoin="round"/>
<path d="M598.2,491.3 L595.2,489.3 L595.2,490.4 L591.2,490.4 L591.2,492.3 L595.2,492.3 L595.2,493.4 Z" fill="#111111" stroke="#111111" stroke-width="0.6" stroke-linejoin="round"/>
<g transform="translate(627.9,490.8) rotate(0) scale(1.0)" fill="none" stroke="#a6a6a6" stroke-linecap="round"><path d="M-14,0 L7.1,0" stroke-width="1.8" stroke="#b2b2b2" stroke-linecap="butt"/><circle cx="-14.4" cy="0" r="1.4" fill="#fff" stroke-width="0.8"/><path d="M-4,-7.9 C-3.8,-10.6 -2.8,-11.6 -2,-11.5 C-0.6,-11.4 0,-10 0,-8.2 L0,7.6 C0,10 -0.8,11.8 -2.1,11.8 C-3.4,11.8 -4.3,10.2 -4.4,7.9" stroke-width="1.5"/><path d="M-5.4,-8 L-4.5,-6.2 L-3.2,-7.8 Z" stroke-width="0.7" stroke="#8a8a8a"/></g>
<line x1="549.8" y1="503" x2="549.8" y2="837.6" stroke="#111111" stroke-width="1.5"/>
<path d="M564.4,505 C564.37,523.33 564.43,525 564.3,560 C564.17,595 564.47,583.33 564,610 C563.53,636.67 564.03,622.9 562.9,640 C561.77,657.1 564.43,645.8 560.6,661.3 C556.77,676.8 558.3,669.67 551.4,686.5 C544.5,703.33 546.2,694.97 539.9,711.8 C533.6,728.63 536.33,720.73 532.5,737 C528.67,753.27 530.23,745.67 528.4,760.6 C526.57,775.53 526.7,765.27 527,781.8 C527.3,798.33 526.2,784.13 529.3,810.2 C532.4,836.27 531.53,834.4 536.3,860 C541.07,885.6 541.17,878 543.6,887 " fill="none" stroke="#2a2a2a" stroke-width="2.6"/>
<path d="M564.4,505 C564.37,523.33 564.43,525 564.3,560 C564.17,595 564.47,583.33 564,610 C563.53,636.67 564.03,622.9 562.9,640 C561.77,657.1 564.43,645.8 560.6,661.3 C556.77,676.8 558.3,669.67 551.4,686.5 C544.5,703.33 546.2,694.97 539.9,711.8 C533.6,728.63 536.33,720.73 532.5,737 C528.67,753.27 530.23,745.67 528.4,760.6 C526.57,775.53 526.7,765.27 527,781.8 C527.3,798.33 526.2,784.13 529.3,810.2 C532.4,836.27 531.53,834.4 536.3,860 C541.07,885.6 541.17,878 543.6,887 " fill="none" stroke="#fff" stroke-width="1.0"/>
<path d="M564.4,505 C564.37,523.33 564.43,525 564.3,560 C564.17,595 564.47,583.33 564,610 C563.53,636.67 564.03,622.9 562.9,640 C561.77,657.1 564.43,645.8 560.6,661.3 C556.77,676.8 558.3,669.67 551.4,686.5 C544.5,703.33 546.2,694.97 539.9,711.8 C533.6,728.63 536.33,720.73 532.5,737 C528.67,753.27 530.23,745.67 528.4,760.6 C526.57,775.53 526.7,765.27 527,781.8 C527.3,798.33 526.2,784.13 529.3,810.2 C532.4,836.27 531.53,834.4 536.3,860 C541.07,885.6 541.17,878 543.6,887 " fill="none" stroke="#3a3a3a" stroke-width="1.4" stroke-dasharray="0.7 2.4" opacity="0.8"/>
<ellipse cx="551.6" cy="686.6" rx="3.6" ry="1.4" fill="#fff" stroke="#222" stroke-width="0.9"/>
<path d="M539.6,958 L539.6,975.6 A10.2,9.8 0 0 0 560,975.6 L560,958" fill="#fff" stroke="#1c1c1c" stroke-width="0.9"/>
<line x1="541.2" y1="960" x2="541.2" y2="979" stroke="#777" stroke-width="0.7"/>
<path d="M539.5,1003.4 L539.5,1031 Q549.7,1037.6 559.9,1031 L559.9,1003.4 Z" fill="#fff" stroke="#1c1c1c" stroke-width="0.9"/>
<ellipse cx="549.7" cy="1003.4" rx="10.2" ry="5.2" fill="#fff" stroke="#1c1c1c" stroke-width="0.9"/>
<path d="M547,958 L547,1001.6 A2.8,1.8 0 0 0 552.6,1001.6 L552.6,958 Z" fill="#fff" stroke="#1c1c1c" stroke-width="0.9"/>
<path d="M539.9,840.8 Q549.7,834 559.5,840.8 L559.5,868 L539.9,868 Z" fill="#fff" stroke="#1c1c1c" stroke-width="0.9"/>
<ellipse cx="549.7" cy="868" rx="9.8" ry="5.5" fill="#fff" stroke="#1c1c1c" stroke-width="0.9"/>
<line x1="541" y1="842" x2="541" y2="866" stroke="#777" stroke-width="0.7"/>
<path d="M539.9,893 L539.9,906 A9.8,7.6 0 0 0 559.5,906 L559.5,893" fill="#fff" stroke="#1c1c1c" stroke-width="0.9"/>
<path d="M547.4,866.6 L547.4,888 L552.4,888 L552.4,866.6 A2.5,1.7 0 0 0 547.4,866.6 Z" fill="#fff" stroke="#1c1c1c" stroke-width="0.9"/>
<g transform="translate(550,936) rotate(242.9)" fill="#fff" stroke="#1c1c1c" stroke-width="0.9" stroke-linejoin="round">
<rect x="29.5" y="-2" width="47.7" height="4"/>
<g transform="translate(0,0)">
<path d="M76.2,-9.8 L105.6,-9.8 L105.6,9.8 L76.2,9.8 A3.3,9.8 0 0 1 76.2,-9.8 Z"/>
<ellipse cx="105.6" cy="0" rx="3.3" ry="9.8" stroke-width="1.5"/>
</g>

</g>
<g transform="translate(550,936) rotate(-62.9)" fill="#fff" stroke="#1c1c1c" stroke-width="0.9" stroke-linejoin="round">
<rect x="29.5" y="-2" width="47.7" height="4"/>
<g transform="translate(0,0)">
<path d="M76.2,-9.8 L105.6,-9.8 L105.6,9.8 L76.2,9.8 A3.3,9.8 0 0 1 76.2,-9.8 Z"/>
<ellipse cx="105.6" cy="0" rx="3.3" ry="9.8" stroke-width="1.5"/>
</g>

</g>
<g transform="translate(550,936) rotate(117.1)" fill="#fff" stroke="#1c1c1c" stroke-width="0.9" stroke-linejoin="round">
<rect x="29.5" y="-2" width="47.7" height="4"/>
<g transform="translate(0,0)">
<path d="M76.2,-9.8 L105.6,-9.8 L105.6,9.8 L76.2,9.8 A3.3,9.8 0 0 1 76.2,-9.8 Z"/>
<ellipse cx="105.6" cy="0" rx="3.3" ry="9.8" stroke-width="1.5"/>
</g>

</g>
<g transform="translate(550,936) rotate(199)" fill="#fff" stroke="#1c1c1c" stroke-width="0.9" stroke-linejoin="round">
<rect x="29.5" y="-2" width="68.1" height="4"/>
<path d="M96.6,-9.8 L124.4,-9.8 A2.8,9.8 0 0 1 124.4,9.8 L96.6,9.8 Z"/>
<ellipse cx="96.6" cy="0" rx="5.6" ry="9.8"/>
<ellipse cx="96.6" cy="0" rx="1.3" ry="2.6" fill="#1c1c1c"/>
<rect x="29.5" y="-2" width="67.1" height="4"/>

</g>
<g transform="translate(550,936) rotate(-19)" fill="#fff" stroke="#1c1c1c" stroke-width="0.9" stroke-linejoin="round">
<rect x="29.5" y="-2" width="68.1" height="4"/>
<path d="M96.6,-9.8 L124.4,-9.8 A2.8,9.8 0 0 1 124.4,9.8 L96.6,9.8 Z"/>
<ellipse cx="96.6" cy="0" rx="5.6" ry="9.8"/>
<ellipse cx="96.6" cy="0" rx="1.3" ry="2.6" fill="#1c1c1c"/>
<rect x="29.5" y="-2" width="67.1" height="4"/>

</g>
<g transform="translate(550,936) rotate(161)" fill="#fff" stroke="#1c1c1c" stroke-width="0.9" stroke-linejoin="round">
<rect x="29.5" y="-2" width="65.1" height="4"/>
<g transform="translate(0,-0.9)">
<path d="M93.6,-9.9 L123,-9.9 L123,9.9 L93.6,9.9 A2.8,9.9 0 0 1 93.6,-9.9 Z"/>
<ellipse cx="123" cy="0" rx="5.6" ry="9.9" stroke-width="1.5"/>
</g>

</g>
<g transform="translate(550,936) rotate(19)" fill="#fff" stroke="#1c1c1c" stroke-width="0.9" stroke-linejoin="round">
<rect x="29.5" y="-2" width="65.1" height="4"/>
<g transform="translate(0,0.9)">
<path d="M93.6,-9.9 L123,-9.9 L123,9.9 L93.6,9.9 A2.8,9.9 0 0 1 93.6,-9.9 Z"/>
<ellipse cx="123" cy="0" rx="5.6" ry="9.9" stroke-width="1.5"/>
</g>

</g>
<g transform="translate(550.0,936.0) rotate(60.7)" fill="#fff" stroke="#1c1c1c" stroke-width="0.9"><rect x="29" y="-1.7" width="30" height="3.4"/><rect x="48" y="-2.3" width="46" height="4.6"/></g>
<g transform="translate(550.5,935.3) rotate(59.8)" fill="#fff" stroke="#1c1c1c" stroke-width="0.9"><rect x="92.8" y="-9.8" width="31.6" height="19.6"/></g>
<path d="M533.91,918.6 A23.7,23.7 0 1 0 566.09,918.6 Z" fill="#fff" stroke="#1c1c1c" stroke-width="0.9"/>
<line x1="533.91" y1="919.1" x2="566.09" y2="919.1" stroke="#1c1c1c" stroke-width="1.6"/>
<g transform="translate(550,936) rotate(242.9)" fill="#fff" stroke="#1c1c1c" stroke-width="0.9"><rect x="23.4" y="-3.2" width="7.8" height="6.4"/><line x1="29" y1="-3.2" x2="29" y2="3.2"/></g>
<g transform="translate(550,936) rotate(-62.9)" fill="#fff" stroke="#1c1c1c" stroke-width="0.9"><rect x="23.4" y="-3.2" width="7.8" height="6.4"/><line x1="29" y1="-3.2" x2="29" y2="3.2"/></g>
<g transform="translate(550,936) rotate(117.1)" fill="#fff" stroke="#1c1c1c" stroke-width="0.9"><rect x="23.4" y="-3.2" width="7.8" height="6.4"/><line x1="29" y1="-3.2" x2="29" y2="3.2"/></g>
<g transform="translate(550,936) rotate(60.6)" fill="#fff" stroke="#1c1c1c" stroke-width="0.9"><rect x="23.4" y="-3.2" width="7.8" height="6.4"/><line x1="29" y1="-3.2" x2="29" y2="3.2"/></g>
<g transform="translate(550,936) rotate(199)" fill="#fff" stroke="#1c1c1c" stroke-width="0.9"><rect x="23.4" y="-3.2" width="7.8" height="6.4"/><line x1="29" y1="-3.2" x2="29" y2="3.2"/></g>
<g transform="translate(550,936) rotate(-19)" fill="#fff" stroke="#1c1c1c" stroke-width="0.9"><rect x="23.4" y="-3.2" width="7.8" height="6.4"/><line x1="29" y1="-3.2" x2="29" y2="3.2"/></g>
<g transform="translate(550,936) rotate(161)" fill="#fff" stroke="#1c1c1c" stroke-width="0.9"><rect x="23.4" y="-3.2" width="7.8" height="6.4"/><line x1="29" y1="-3.2" x2="29" y2="3.2"/></g>
<g transform="translate(550,936) rotate(19)" fill="#fff" stroke="#1c1c1c" stroke-width="0.9"><rect x="23.4" y="-3.2" width="7.8" height="6.4"/><line x1="29" y1="-3.2" x2="29" y2="3.2"/></g>
<rect x="546.6" y="958.6" width="6.8" height="6" fill="#fff" stroke="#1c1c1c" stroke-width="0.9"/>
<path d="M547.6,913.2 L547.6,929 A2.4,2.4 0 0 0 552.4,929 L552.4,913.2" fill="#fff" stroke="#1c1c1c" stroke-width="0.9"/>
<path d="M546.8,927.6 A3.2,3.2 0 0 0 553.2,927.6" fill="none" stroke="#1c1c1c" stroke-width="0.9"/>
<circle cx="550" cy="896.1" r="9.6" fill="#fff" stroke="#111" stroke-width="1.5"/>
<path d="M575.4,955.4 L586.4,942.6 L591.4,947.6" fill="none" stroke="#111111" stroke-width="2.2"/>
<rect x="570.3" y="958.3" width="2.8" height="2.8" fill="#111111" transform="rotate(40 571.7 959.7)"/>
<g fill="none" stroke="#8c8c8c" stroke-width="0.9"><line x1="592.2" y1="965.8" x2="603.1" y2="955.6" stroke-width="1.7" stroke-dasharray="0.7 0.6"/><path d="M591.5,953.8 Q596,955 598.7,958.5 Q602,962 603.8,966.9 L599.6,965.6"/><path d="M592,957 L591.5,953.8 L594.6,953.3"/><path d="M601,964.4 L599.6,965.6 L601.2,967.2"/></g>
<line x1="621.5" y1="997.8" x2="635.8" y2="1021.2" stroke="#8a8a8a" stroke-width="1.9"/><line x1="621.5" y1="997.8" x2="635.8" y2="1021.2" stroke="#fff" stroke-width="0.6"/>
<g transform="translate(637.4,1083) rotate(-121.6)"><path d="M17.1,-8.9 A19.3,19.3 0 1 0 17.1,8.9 Q21.8,6 26,7.2 L26,-7.2 Q21.8,-6 17.1,-8.9 Z" fill="#fff" stroke="#1c1c1c" stroke-width="1"/><path d="M26,-7.3 L33.4,-6.5 Q38.8,-4.6 38.6,0 Q38.8,4.6 33.4,6.5 L26,7.3 Z" fill="#1a1a1a" stroke="#111" stroke-width="0.6"/><path d="M27.8,-7 L27.8,7 M29.8,-6.8 L29.8,6.8 M31.8,-6.6 L31.8,6.6 M33.8,-6 L33.8,6" stroke="#e8e8e8" stroke-width="0.55"/></g>
<g transform="translate(663.5,1059) rotate(58.5) scale(0.95)" fill="none" stroke="#a6a6a6" stroke-linecap="round"><path d="M-14,0 L7.1,0" stroke-width="1.8" stroke="#b2b2b2" stroke-linecap="butt"/><circle cx="-14.4" cy="0" r="1.4" fill="#fff" stroke-width="0.8"/><path d="M-4,-7.9 C-3.8,-10.6 -2.8,-11.6 -2,-11.5 C-0.6,-11.4 0,-10 0,-8.2 L0,7.6 C0,10 -0.8,11.8 -2.1,11.8 C-3.4,11.8 -4.3,10.2 -4.4,7.9" stroke-width="1.5"/><path d="M-5.4,-8 L-4.5,-6.2 L-3.2,-7.8 Z" stroke-width="0.7" stroke="#8a8a8a"/></g>
</svg>
</body></html>
